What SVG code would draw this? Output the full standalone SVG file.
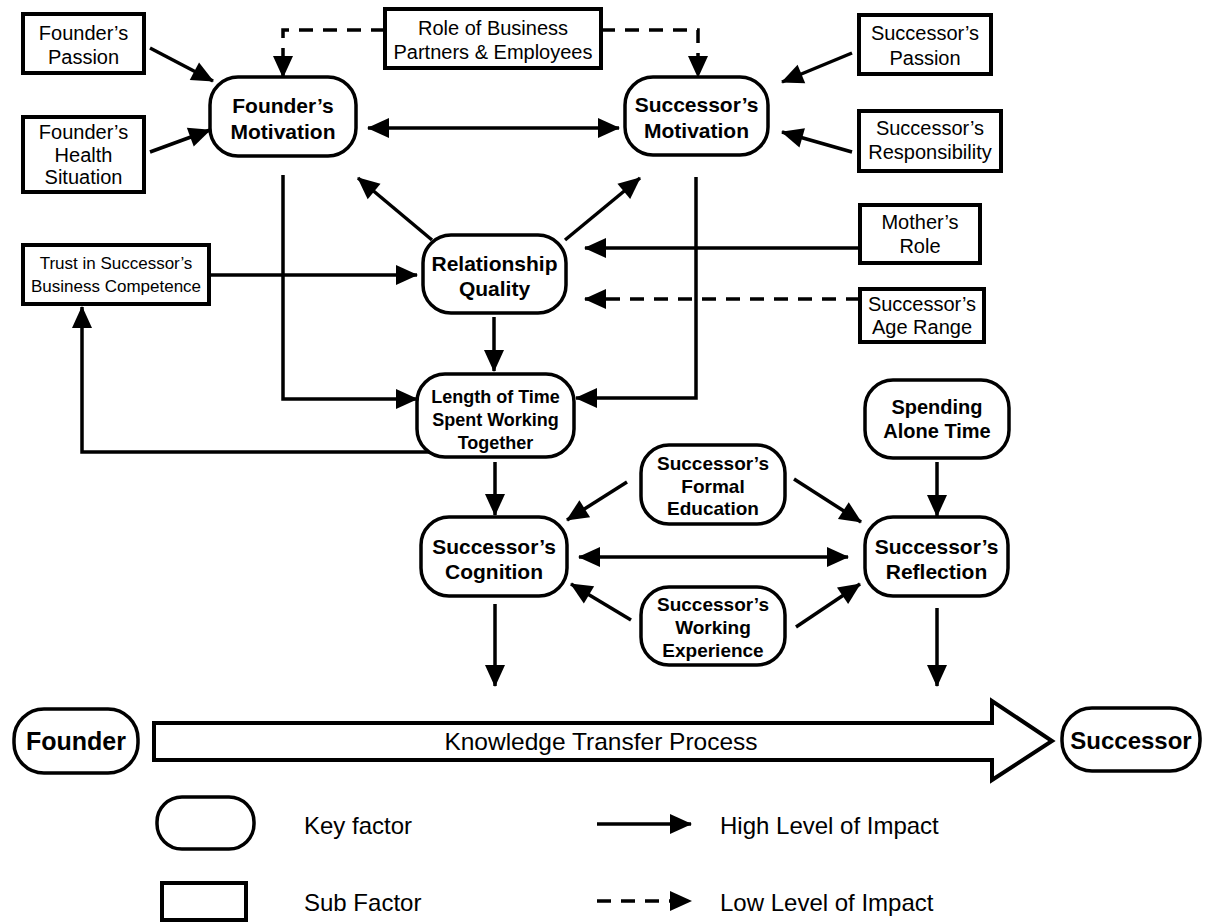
<svg xmlns="http://www.w3.org/2000/svg" width="1206" height="922" viewBox="0 0 1206 922">
<style>
.box{fill:#fff;stroke:#000;stroke-width:4}
.key{fill:#fff;stroke:#000;stroke-width:3.5}
.t{font-family:"Liberation Sans",Arial,Helvetica,sans-serif;font-size:20px;text-anchor:middle;dominant-baseline:central;fill:#000}
.b{font-weight:bold}
.c{fill:none;stroke:#000;stroke-width:3.5}
.d{stroke-dasharray:14 10}
.lg{font-size:24px;text-anchor:start}
</style>
<defs>
<marker id="ah" markerUnits="userSpaceOnUse" markerWidth="22" markerHeight="20" refX="21" refY="10" orient="auto-start-reverse" overflow="visible">
<path d="M0,0 L22,10 L0,20 z" fill="#000"/>
</marker>
</defs>
<rect width="1206" height="922" fill="#fff"/>
<g id="connectors">
<line class="c" x1="150" y1="48" x2="213" y2="81" marker-end="url(#ah)"/>
<line class="c" x1="150" y1="152" x2="210" y2="130" marker-end="url(#ah)"/>
<line class="c" x1="368" y1="128" x2="619" y2="128" marker-start="url(#ah)" marker-end="url(#ah)"/>
<line class="c" x1="852" y1="53" x2="782" y2="82" marker-end="url(#ah)"/>
<line class="c" x1="852" y1="152" x2="782" y2="132" marker-end="url(#ah)"/>
<path class="c d" d="M385,30 H283 V77" marker-end="url(#ah)"/>
<path class="c d" d="M601,30 H698 V77" marker-end="url(#ah)"/>
<line class="c" x1="432" y1="240" x2="358" y2="178" marker-end="url(#ah)"/>
<line class="c" x1="565" y1="240" x2="640" y2="178" marker-end="url(#ah)"/>
<line class="c" x1="209" y1="275" x2="417" y2="275" marker-end="url(#ah)"/>
<line class="c" x1="860" y1="248" x2="585" y2="248" marker-end="url(#ah)"/>
<line class="c d" x1="860" y1="299" x2="585" y2="299" marker-end="url(#ah)"/>
<line class="c" x1="494" y1="317" x2="494" y2="371" marker-end="url(#ah)"/>
<path class="c" d="M283,175 V399 H417" marker-end="url(#ah)"/>
<path class="c" d="M696,177 V398 H576" marker-end="url(#ah)"/>
<path class="c" d="M435,452 H82 V307" marker-end="url(#ah)"/>
<line class="c" x1="495" y1="462" x2="495" y2="515" marker-end="url(#ah)"/>
<line class="c" x1="937" y1="462" x2="937" y2="516" marker-end="url(#ah)"/>
<line class="c" x1="627" y1="482" x2="567" y2="520" marker-end="url(#ah)"/>
<line class="c" x1="794" y1="479" x2="861" y2="522" marker-end="url(#ah)"/>
<line class="c" x1="631" y1="620" x2="571" y2="584" marker-end="url(#ah)"/>
<line class="c" x1="796" y1="627" x2="860" y2="584" marker-end="url(#ah)"/>
<line class="c" x1="579" y1="557" x2="848" y2="557" marker-start="url(#ah)" marker-end="url(#ah)"/>
<line class="c" x1="495" y1="604" x2="495" y2="686" marker-end="url(#ah)"/>
<line class="c" x1="937" y1="608" x2="937" y2="686" marker-end="url(#ah)"/>
</g>
<g id="founder_passion"><rect class="box" x="23" y="14" width="121" height="59"/><text class="t" x="83.5" y="33">Founder’s</text><text class="t" x="83.5" y="57">Passion</text></g>
<g id="founder_health"><rect class="box" x="23" y="117" width="121" height="75"/><text class="t" x="83.5" y="132">Founder’s</text><text class="t" x="83.5" y="155">Health</text><text class="t" x="83.5" y="177">Situation</text></g>
<g id="role_partners"><rect class="box" x="385" y="9" width="216" height="59"/><text class="t" x="493" y="28">Role of Business</text><text class="t" x="493" y="52">Partners &amp; Employees</text></g>
<g id="founder_motivation"><rect class="key" x="210" y="77" width="146" height="79" rx="28"/><text class="t b" x="283" y="105" style="font-size:21px">Founder’s</text><text class="t b" x="283" y="131" style="font-size:21px">Motivation</text></g>
<g id="successor_motivation"><rect class="key" x="625" y="77" width="143" height="78" rx="28"/><text class="t b" x="696.5" y="104" style="font-size:21px">Successor’s</text><text class="t b" x="696.5" y="130" style="font-size:21px">Motivation</text></g>
<g id="successor_passion"><rect class="box" x="859" y="15" width="132" height="59"/><text class="t" x="925" y="33">Successor’s</text><text class="t" x="925" y="58">Passion</text></g>
<g id="successor_responsibility"><rect class="box" x="859" y="111" width="142" height="60"/><text class="t" x="930" y="128">Successor’s</text><text class="t" x="930" y="152">Responsibility</text></g>
<g id="trust"><rect class="box" x="23" y="245" width="186" height="59"/><text class="t" x="116" y="263" style="font-size:17px">Trust in Successor’s</text><text class="t" x="116" y="286" style="font-size:17px">Business Competence</text></g>
<g id="relationship_quality"><rect class="key" x="423" y="235" width="143" height="78" rx="28"/><text class="t b" x="494.5" y="263" style="font-size:21px">Relationship</text><text class="t b" x="494.5" y="288" style="font-size:21px">Quality</text></g>
<g id="mothers_role"><rect class="box" x="860" y="205" width="120" height="58"/><text class="t" x="920" y="222">Mother’s</text><text class="t" x="920" y="246">Role</text></g>
<g id="age_range"><rect class="box" x="860" y="289" width="124" height="53"/><text class="t" x="922" y="304">Successor’s</text><text class="t" x="922" y="327">Age Range</text></g>
<g id="length_of_time"><rect class="key" x="417" y="374" width="157" height="83" rx="28"/><text class="t b" x="495.5" y="397" style="font-size:18px">Length of Time</text><text class="t b" x="495.5" y="420" style="font-size:18px">Spent Working</text><text class="t b" x="495.5" y="443" style="font-size:18px">Together</text></g>
<g id="spending_alone"><rect class="key" x="865" y="380" width="144" height="78" rx="28"/><text class="t b" x="937" y="407">Spending</text><text class="t b" x="937" y="431">Alone Time</text></g>
<g id="formal_education"><rect class="key" x="641" y="445" width="144" height="79" rx="28"/><text class="t b" x="713" y="463" style="font-size:19px">Successor’s</text><text class="t b" x="713" y="486" style="font-size:19px">Formal</text><text class="t b" x="713" y="508" style="font-size:19px">Education</text></g>
<g id="cognition"><rect class="key" x="421" y="517" width="146" height="79" rx="28"/><text class="t b" x="494" y="546" style="font-size:21px">Successor’s</text><text class="t b" x="494" y="571" style="font-size:21px">Cognition</text></g>
<g id="reflection"><rect class="key" x="865" y="517" width="143" height="79" rx="28"/><text class="t b" x="936.5" y="546" style="font-size:21px">Successor’s</text><text class="t b" x="936.5" y="571" style="font-size:21px">Reflection</text></g>
<g id="working_experience"><rect class="key" x="641" y="587" width="144" height="78" rx="28"/><text class="t b" x="713" y="604" style="font-size:19px">Successor’s</text><text class="t b" x="713" y="627" style="font-size:19px">Working</text><text class="t b" x="713" y="650" style="font-size:19px">Experience</text></g>
<g id="founder"><rect class="key" x="14" y="709" width="124" height="64" rx="30"/><text class="t b" x="76" y="741" style="font-size:25px">Founder</text></g>
<g id="knowledge_transfer"><polygon class="box" points="154,723 992,723 992,701 1052,741 992,780 992,760 154,760"/><text class="t" x="601" y="741" style="font-size:24.5px">Knowledge Transfer Process</text></g>
<g id="successor"><rect class="key" x="1062" y="708" width="138" height="63" rx="30"/><text class="t b" x="1131" y="740" style="font-size:24px">Successor</text></g>
<g id="legend">
<rect class="key" x="157" y="797" width="97" height="52" rx="25"/>
<text class="t lg" x="304" y="825">Key factor</text>
<rect class="box" x="162" y="883" width="84" height="37"/>
<text class="t lg" x="304" y="902">Sub Factor</text>
<line class="c" x1="597" y1="824" x2="691" y2="824" marker-end="url(#ah)"/>
<text class="t lg" x="720" y="825">High Level of Impact</text>
<line class="c d" x1="597" y1="901" x2="691" y2="901" marker-end="url(#ah)"/>
<text class="t lg" x="720" y="902">Low Level of Impact</text>
</g>
</svg>
